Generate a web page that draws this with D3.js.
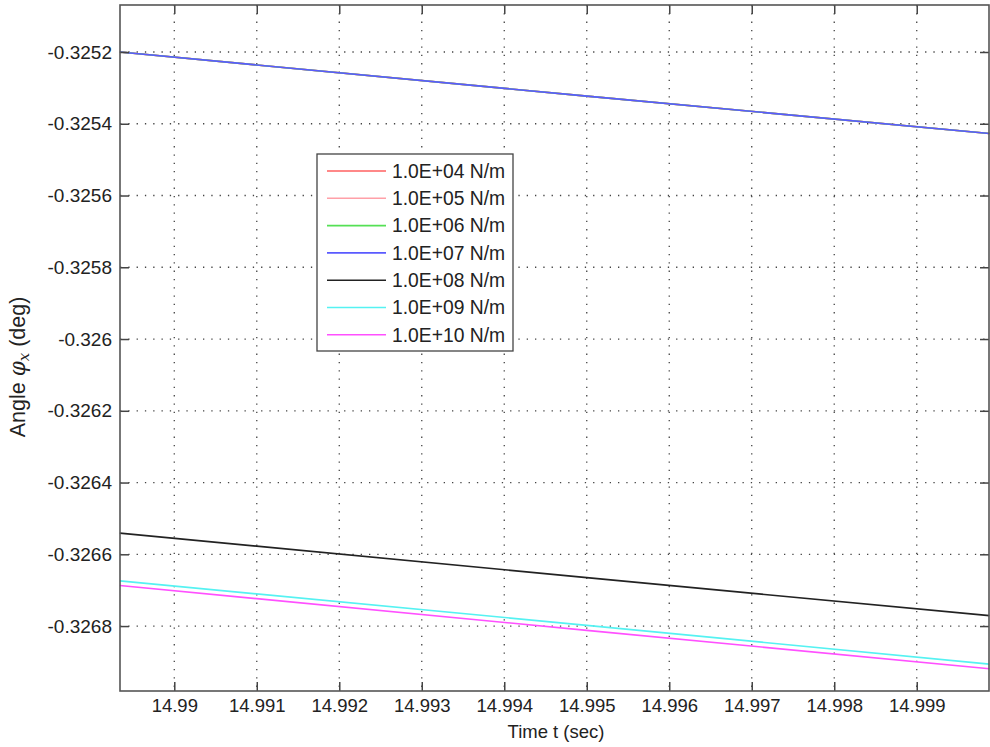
<!DOCTYPE html>
<html>
<head>
<meta charset="utf-8">
<script src="https://cdn.jsdelivr.net/npm/d3@7"></script>
<style>
  body { margin: 0; background: #fff; }
  svg { display: block; font-family: Arial, "Liberation Sans", sans-serif; }
</style>
</head>
<body>
<div id="chart"></div>
<script>
// chart size and plot box
const width = 990;
const height = 747;
const margin = {left: 120, right: 1, top: 5, bottom: 56};

// data
const time = [14.98934, 14.995, 14.99988];
const seriesNames = ["1.0E+04 N/m", "1.0E+05 N/m", "1.0E+06 N/m", "1.0E+07 N/m",
                     "1.0E+08 N/m", "1.0E+09 N/m", "1.0E+10 N/m"];
const angle1e4 = [-0.32520, -0.325323, -0.325427];
const angle1e5 = [-0.32520, -0.325323, -0.325427];
const angle1e6 = [-0.32520, -0.325323, -0.325427];
const angle1e7 = [-0.32520, -0.325323, -0.325427];
const angle1e8 = [-0.326541, -0.326665, -0.326771];
const angle1e9 = [-0.326674, -0.326798, -0.326906];
const angle1e10 = [-0.326687, -0.326812, -0.326919];
const seriesColors = ["#ff6060", "#ffa0a8", "#55e055", "#5a5aff", "#222222", "#55f2f2", "#ff50ff"];

const xTicks = [14.99, 14.991, 14.992, 14.993, 14.994, 14.995, 14.996, 14.997, 14.998, 14.999];
const xTickLabels = ["14.99", "14.991", "14.992", "14.993", "14.994", "14.995", "14.996", "14.997", "14.998", "14.999"];
const yTicks = [-0.3252, -0.3254, -0.3256, -0.3258, -0.326, -0.3262, -0.3264, -0.3266, -0.3268];
const yTickLabels = ["-0.3252", "-0.3254", "-0.3256", "-0.3258", "-0.326", "-0.3262", "-0.3264", "-0.3266", "-0.3268"];

const allSeries = [angle1e4, angle1e5, angle1e6, angle1e7, angle1e8, angle1e9, angle1e10];

const svg = d3.select("#chart")
  .append("svg")
  .attr("width", width)
  .attr("height", height);

// scales
const x = d3.scaleLinear()
  .domain([14.989342, 14.999876])
  .range([margin.left, width - margin.right]);

const y = d3.scaleLinear()
  .domain([-0.326981, -0.325069])
  .range([height - margin.bottom, margin.top]);

const textColor = "#222";

// grid (dotted)
svg.append("g")
  .selectAll("line")
  .data(xTicks)
  .join("line")
    .attr("x1", d => x(d)).attr("x2", d => x(d))
    .attr("y1", margin.top).attr("y2", height - margin.bottom)
    .attr("stroke", "#444")
    .attr("stroke-width", 1.3)
    .attr("stroke-dasharray", "1.3,7");

svg.append("g")
  .selectAll("line")
  .data(yTicks)
  .join("line")
    .attr("x1", margin.left).attr("x2", width - margin.right)
    .attr("y1", d => y(d)).attr("y2", d => y(d))
    .attr("stroke", "#444")
    .attr("stroke-width", 1.3)
    .attr("stroke-dasharray", "1.3,7");

// data lines
const line = d3.line()
  .x((d, i) => x(time[i]))
  .y(d => y(d));

svg.append("g")
  .selectAll("path")
  .data(allSeries)
  .join("path")
    .attr("d", d => line(d))
    .attr("fill", "none")
    .attr("stroke", (d, i) => seriesColors[i])
    .attr("stroke-width", 1.6);

// axes: ticks inward, box on all sides
const tickLen = 9;
svg.append("g")
  .attr("transform", `translate(0,${height - margin.bottom})`)
  .call(d3.axisBottom(x).tickValues(xTicks).tickFormat((d, i) => xTickLabels[i])
        .tickSizeInner(-tickLen).tickSizeOuter(0).tickPadding(8))
  .call(g => g.select(".domain").remove())
  .attr("font-size", "18.5px")
  .attr("font-family", "Arial, 'Liberation Sans', sans-serif")
  .call(g => g.selectAll("line").attr("stroke", "#444").attr("stroke-width", 1.5))
  .call(g => g.selectAll("text").attr("fill", textColor));

svg.append("g")
  .attr("transform", `translate(0,${margin.top})`)
  .call(d3.axisTop(x).tickValues(xTicks).tickFormat("")
        .tickSizeInner(-tickLen).tickSizeOuter(0))
  .call(g => g.select(".domain").remove())
  .call(g => g.selectAll("line").attr("stroke", "#444").attr("stroke-width", 1.5));

svg.append("g")
  .attr("transform", `translate(${margin.left},0)`)
  .call(d3.axisLeft(y).tickValues(yTicks).tickFormat((d, i) => yTickLabels[i])
        .tickSizeInner(-tickLen).tickSizeOuter(0).tickPadding(8))
  .call(g => g.select(".domain").remove())
  .attr("font-size", "19px")
  .attr("font-family", "Arial, 'Liberation Sans', sans-serif")
  .call(g => g.selectAll("line").attr("stroke", "#444").attr("stroke-width", 1.5))
  .call(g => g.selectAll("text").attr("fill", textColor));

svg.append("g")
  .attr("transform", `translate(${width - margin.right},0)`)
  .call(d3.axisRight(y).tickValues(yTicks).tickFormat("")
        .tickSizeInner(-tickLen).tickSizeOuter(0))
  .call(g => g.select(".domain").remove())
  .call(g => g.selectAll("line").attr("stroke", "#444").attr("stroke-width", 1.5));

// frame
svg.append("rect")
  .attr("x", margin.left)
  .attr("y", margin.top)
  .attr("width", width - margin.left - margin.right)
  .attr("height", height - margin.top - margin.bottom)
  .attr("fill", "none")
  .attr("stroke", "#555")
  .attr("stroke-width", 1.6);

// axis labels
svg.append("text")
  .attr("x", 556)
  .attr("y", 738)
  .attr("text-anchor", "middle")
  .attr("font-size", "18.5px")
  .attr("fill", textColor)
  .text("Time t (sec)");

const yLabel = svg.append("text")
  .attr("transform", "translate(25,367) rotate(-90)")
  .attr("text-anchor", "middle")
  .attr("font-size", "21.5px")
  .attr("fill", textColor);
yLabel.append("tspan").text("Angle ");
yLabel.append("tspan").attr("font-style", "italic").attr("font-family", "'DejaVu Serif', serif").text("φ");
yLabel.append("tspan").attr("font-style", "italic").attr("font-family", "'DejaVu Serif', serif")
  .attr("font-size", "15px").attr("dy", 4).text("x");
yLabel.append("tspan").attr("dy", -4).text(" (deg)");

// legend
const legend = svg.append("g").attr("transform", "translate(317,154)");
legend.append("rect")
  .attr("width", 196)
  .attr("height", 197)
  .attr("fill", "#fff")
  .attr("stroke", "#444")
  .attr("stroke-width", 1.3);

const rows = legend.selectAll("g.row")
  .data(seriesNames)
  .join("g")
    .attr("class", "row")
    .attr("transform", (d, i) => `translate(0,${17 + i * 27.3})`);

rows.append("line")
  .attr("x1", 10).attr("x2", 69)
  .attr("stroke", (d, i) => seriesColors[i])
  .attr("stroke-width", 1.6);

rows.append("text")
  .attr("x", 75)
  .attr("dy", "0.35em")
  .attr("font-size", "19.3px")
  .attr("fill", textColor)
  .text(d => d);
</script>
</body>
</html>
